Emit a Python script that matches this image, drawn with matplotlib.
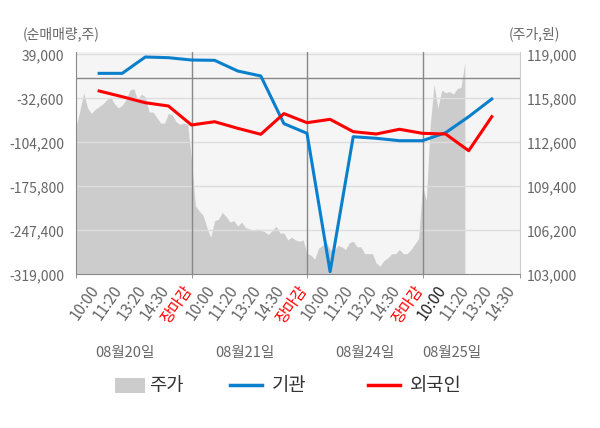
import matplotlib
matplotlib.use("Agg")
import matplotlib.pyplot as plt
from matplotlib.patches import Rectangle
from matplotlib.lines import Line2D
from matplotlib.transforms import ScaledTranslation, blended_transform_factory

plt.rcParams['font.family'] = ['Noto Sans CJK KR', 'DejaVu Sans']

# ---------------- data ----------------
tick_labels = ["10:00", "11:20", "13:20", "14:30", "장마감",
               "10:00", "11:20", "13:20", "14:30", "장마감",
               "10:00", "11:20", "13:20", "14:30", "장마감",
               "10:00", "11:20", "13:20", "14:30"]
dates = ["08월20일", "08월21일", "08월24일", "08월25일"]

institution = [8000, 8000, 34600, 33500, 29700, 29200, 11800, 3700, -73800,
               -89600, -314700, -95100, -97700, -101600, -101600, -88600,
               -62500, -33700]
foreign = [-20700, -30000, -39800, -45100, -76000, -70700, -81400, -91200,
           -57500, -72300, -66800, -86900, -90700, -83000, -89600, -90700,
           -117900, -62500]

price_day1 = [113700, 114900, 116200, 115100, 114700, 115000, 115200, 115400,
              115700, 115900, 115400, 115100, 115300, 115700, 116400, 116500,
              115700, 116100, 115900, 114800, 114800, 114400, 114000, 114000,
              114700, 114600, 114100, 113900, 114000, 113900]
price_day2 = [111300, 108000, 107600, 107300, 106400, 105700, 106900, 107000,
              107500, 107200, 106800, 106900, 106500, 106800, 106400, 106300,
              106200, 106300, 106200, 106100, 105900, 106200, 106500, 106000,
              106000, 105500, 105700, 105500, 105400, 105500]
price_day3 = [104500, 104400, 104100, 104900, 105100, 105300, 104800, 104700,
              105100, 105000, 104800, 105300, 105400, 105000, 105000, 104500,
              104500, 104500, 103800, 103600, 104000, 104200, 104500, 104500,
              104800, 104500, 104500, 104800, 105200, 105600]
price_day4 = [109400, 108400, 113800, 116800, 115100, 116400, 116200, 116300,
              116100, 116500, 116600, 118400]

left_ticks = [-319000, -247400, -175800, -104200, -32600, 39000]
right_ticks = [103000, 106200, 109400, 112600, 115800, 119000]

# ---------------- figure ----------------
W, H = 600, 428
fig = plt.figure(figsize=(W / 100, H / 100), dpi=100)
ax_l, ax_r, ax_t, ax_b = 76, 520, 52, 274.3
axp = fig.add_axes([ax_l / W, (H - ax_b) / H, (ax_r - ax_l) / W, (ax_b - ax_t) / H])
axs = axp.twinx()

# price area (minute-like samples, 6 per slot, 5 slots per day)
spd = 6
px, py = [], []
for d, day in enumerate([price_day1, price_day2, price_day3, price_day4]):
    for i, v in enumerate(day):
        px.append(-1 + 5 * d + i / spd)
        py.append(v)
axp.fill_between(px, py, 103000, color="#cccccc", lw=0, zorder=1)

xmax = -1 + (ax_r - ax_l) / 23.1
axp.set_xlim(-1, xmax)
axs.set_xlim(-1, xmax)
axp.set_ylim(103000, 119000 + (ax_b - ax_t - 220) * 16000 / 220)
axs.set_ylim(-319000, 39000 + (ax_b - ax_t - 220) * 358000 / 220)

axp.set_facecolor("#f5f5f5")
axs.patch.set_visible(False)

# grid lines
for v in right_ticks[1:]:
    axp.axhline(v, color="#dddddd", lw=1, zorder=2)
for k in [4, 9, 14]:
    axp.axvline(k, color="#888888", lw=1, zorder=3)
axs.axhline(0, color="#888888", lw=1, zorder=1)

# lines
axs.plot(range(len(institution)), institution, color="#0a7fcc", lw=2.2, zorder=4,
         solid_joinstyle="round")
axs.plot(range(len(foreign)), foreign, color="#ff0000", lw=2.2, zorder=5,
         solid_joinstyle="round")

# spines
for s in axs.spines.values():
    s.set_visible(False)
axp.spines["top"].set_visible(False)
axp.spines["left"].set_color("#888888")
axp.spines["bottom"].set_color("#888888")
axp.spines["right"].set_color("#cccccc")

# y ticks
axs.yaxis.tick_left()
axs.set_yticks(left_ticks)
axs.set_yticklabels([f"{v:,}" for v in left_ticks])
axs.tick_params(axis="y", length=0, pad=8.6, labelsize=10, labelcolor="#666666")
axp.yaxis.tick_right()
axp.set_yticks(right_ticks)
axp.set_yticklabels([f"{v:,}" for v in right_ticks])
axp.tick_params(axis="y", length=0, pad=5, labelsize=10, labelcolor="#666666")

# x ticks: minor = boundary marks, major = time labels
axs.tick_params(axis="x", bottom=False, labelbottom=False)
axp.xaxis.remove_overlapping_locs = False
axp.set_xticks(range(len(tick_labels)), tick_labels)
axp.tick_params(axis="x", which="major", length=0, pad=6, labelsize=11)
axp.set_xticks([-1, 4, 9, 14, xmax], minor=True)
axp.tick_params(axis="x", which="minor", length=3, color="#888888", direction="out",
                labelbottom=False)
off = ScaledTranslation(4 / 100, 0, fig.dpi_scale_trans)
for idx, lab in enumerate(axp.get_xticklabels()):
    lab.set_rotation(55)
    lab.set_ha("right")
    lab.set_transform(lab.get_transform() + off)
    t = lab.get_text()
    lab.set_color("#ff0000" if t == "장마감" else ("#222222" if idx == 15 else "#666666"))

# date labels
tr = blended_transform_factory(axp.transData, fig.transFigure)
for d, k in zip(dates, [1.12, 6.32, 11.5, 15.28]):
    axp.text(k, (H - 353) / H, d, transform=tr, ha="center", va="center",
             fontsize=10.5, color="#666666")

# axis titles
fig.text(23 / W, (H - 34) / H, "(순매매량,주)", ha="left", va="center",
         fontsize=10, color="#666666")
fig.text(509 / W, (H - 34) / H, "(주가,원)", ha="left", va="center",
         fontsize=10, color="#666666")

# legend (manual)
ly = (H - 385) / H
fig.add_artist(Rectangle((115 / W, (H - 393) / H), 30 / W, 15 / H,
                         transform=fig.transFigure, color="#cccccc", lw=0))
fig.text(149 / W, ly, "주가", ha="left", va="center", fontsize=13.5, color="#333333")
fig.add_artist(Line2D([230 / W, 262 / W], [ly, ly], transform=fig.transFigure,
                      color="#0a7fcc", lw=2.5))
fig.text(272 / W, ly, "기관", ha="left", va="center", fontsize=13.5, color="#333333")
fig.add_artist(Line2D([368 / W, 400 / W], [ly, ly], transform=fig.transFigure,
                      color="#ff0000", lw=2.5))
fig.text(410 / W, ly, "외국인", ha="left", va="center", fontsize=13.5, color="#333333")

fig.savefig("out.png", dpi=100)
